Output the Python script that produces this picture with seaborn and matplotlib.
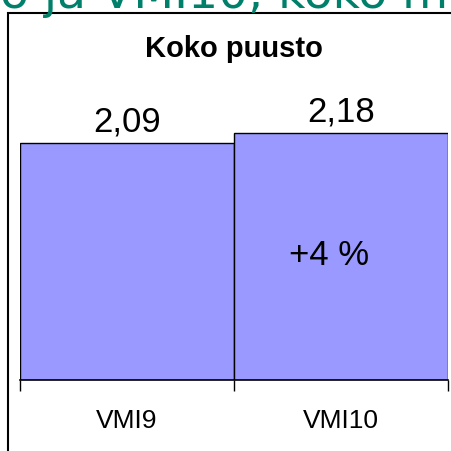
import matplotlib
matplotlib.use("Agg")
import matplotlib.pyplot as plt
import seaborn as sns
from matplotlib.patches import Rectangle
from matplotlib.ticker import FixedLocator

# data
categories = ["VMI9", "VMI10"]
values = [2.09, 2.18]
title = "Koko puusto"
slide_title = "o ja VMI10, koko m"

W, H = 451, 452
sns.set_theme(style="white")
plt.rcParams['font.family'] = ['Liberation Sans', 'DejaVu Sans']
plt.rcParams['text.color'] = 'black'
plt.rcParams['xtick.color'] = 'black'

fig = plt.figure(figsize=(W / 100, H / 100), dpi=100)
fig.patch.set_facecolor("white")

# slide title cut off at the top
fig.text(0, 1 - 8 / H, slide_title, color="#00806A", fontsize=34,
         family="DejaVu Sans", ha="left", va="baseline")

# box round the chart
fig.add_artist(Rectangle((8 / W, -0.1), 2, 1.1 - 14 / H, transform=fig.transFigure,
                         fill=False, edgecolor="black", lw=1.5))

fig.text(234 / W, 1 - 57 / H, title, fontsize=21, fontweight="bold",
         ha="center", va="baseline")

ax = fig.add_axes([20 / W, 71 / H, 428 / W, 283 / H])
sns.barplot(x=categories, y=values, color="#9999FF", saturation=1, width=1,
            edgecolor="black", linewidth=1, ax=ax)
ax.set_xlim(-0.5, 1.5)
ax.set_ylim(0, 2.5)
ax.patch.set_alpha(0)

for s in ["top", "right", "left"]:
    ax.spines[s].set_visible(False)
ax.spines["bottom"].set_color("black")
ax.spines["bottom"].set_linewidth(1.2)
ax.set_yticks([])
ax.set_xlabel("")
ax.set_ylabel("")

ax.tick_params(axis="x", which="major", length=0, pad=20, labelsize=19, labelcolor="black")
ax.xaxis.set_minor_locator(FixedLocator([-0.5, 0.5, 1.5]))
ax.tick_params(axis="x", which="minor", bottom=True, length=8, width=1, color="black")

for i, v in enumerate(values):
    ax.annotate(f"{v:.2f}".replace(".", ","), (i, v), xytext=(0, 9.5),
                textcoords="offset points", ha="center", va="baseline", fontsize=25)

change = round((values[1] / values[0] - 1) * 100)
ax.text(1 - 0.054, values[1] * 0.51, f"+{change} %", ha="center", va="center", fontsize=25)

fig.savefig("out.png", dpi=100)
